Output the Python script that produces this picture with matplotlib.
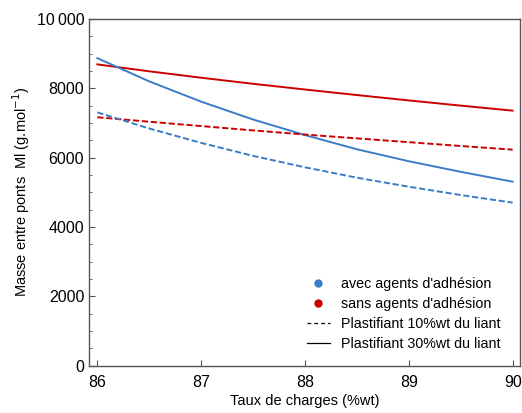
import matplotlib.pyplot as plt
from matplotlib.lines import Line2D
from matplotlib.ticker import MultipleLocator, FuncFormatter

plt.rcParams['font.family'] = ['Liberation Sans', 'DejaVu Sans']

# Taux de charges (%wt)
taux = [86, 86.5, 87, 87.5, 88, 88.5, 89, 89.5, 90]

# Masse entre ponts Ml (g/mol)
avec_30 = [8870, 8200, 7615, 7100, 6650, 6240, 5895, 5590, 5305]
avec_10 = [7305, 6840, 6425, 6050, 5720, 5420, 5160, 4920, 4700]
sans_30 = [8690, 8490, 8305, 8130, 7965, 7805, 7650, 7500, 7355]
sans_10 = [7165, 7035, 6910, 6785, 6665, 6555, 6445, 6335, 6230]

blue = '#3b7dc4'
red = '#cc0000'
dash = (3.2, 1.4)

fig = plt.figure(figsize=(5.22, 4.13), dpi=100)
ax = fig.add_axes([0.1705, 0.115, 0.8255, 0.839])

ax.plot(taux, sans_30, color=red, lw=1.4)
ax.plot(taux, avec_30, color=blue, lw=1.4)
ax.plot(taux, sans_10, color=red, lw=1.4, dashes=dash)
ax.plot(taux, avec_10, color=blue, lw=1.4, dashes=dash)

ax.set_xlim(85.92, 90.07)
ax.set_ylim(0, 10000)
ax.xaxis.set_major_locator(MultipleLocator(1))
ax.yaxis.set_major_locator(MultipleLocator(2000))
ax.yaxis.set_minor_locator(MultipleLocator(500))
ax.yaxis.set_major_formatter(FuncFormatter(
    lambda v, p: '10\u2009000' if v >= 10000 else '%d' % v))
ax.tick_params(direction='in', labelsize=11.5, color='#555555', length=4)
ax.tick_params(which='minor', direction='in', length=2.5, color='#555555')
ax.tick_params(axis='x', pad=7)
for s in ax.spines.values():
    s.set_color('#555555')
    s.set_linewidth(1.0)

ax.set_xlabel('Taux de charges (%wt)', fontsize=10.5, labelpad=3)
ax.set_ylabel('Masse entre ponts  Ml (g.mol$^{-1}$)', fontsize=10.5, labelpad=3)

handles = [
    Line2D([], [], ls='none', marker='o', ms=5, color=blue),
    Line2D([], [], ls='none', marker='o', ms=5, color=red),
    Line2D([], [], color='black', lw=0.9, dashes=(3, 2.5)),
    Line2D([], [], color='black', lw=0.9),
]
labels = ["avec agents d'adhésion", "sans agents d'adhésion",
          'Plastifiant 10%wt du liant', 'Plastifiant 30%wt du liant']
ax.legend(handles, labels, loc='lower right', bbox_to_anchor=(0.985, 0.005),
          frameon=False, fontsize=10.3, handlelength=1.6, handletextpad=0.8,
          labelspacing=0.42)

fig.savefig('out.png', dpi=100)
